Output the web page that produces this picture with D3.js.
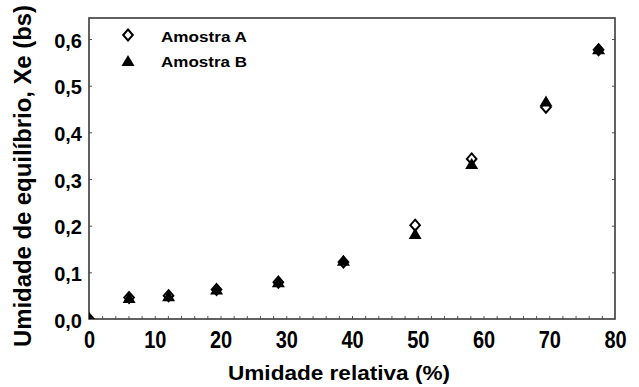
<!DOCTYPE html>
<html>
<head>
<meta charset="utf-8">
<script src="https://cdn.jsdelivr.net/npm/d3@7"></script>
<style>
  html, body { margin: 0; padding: 0; background: #fff; }
  svg { display: block; }
  text { font-family: "Liberation Sans", Arial, sans-serif; font-weight: bold; fill: #000; }
</style>
</head>
<body>
<svg id="chart" width="639" height="387"></svg>
<script>
// Relative humidity (%) at each equilibrium point
const umidadeRelativa = [0, 6.1, 12.1, 19.4, 28.8, 38.7, 49.6, 58.2, 69.5, 77.5];
// Equilibrium moisture content, dry basis
const amostraA = [0, 0.046, 0.050, 0.063, 0.079, 0.122, 0.201, 0.343, 0.454, 0.577];
const amostraB = [0, 0.045, 0.049, 0.063, 0.079, 0.125, 0.182, 0.332, 0.466, 0.578];
const seriesNames = ["Amostra A", "Amostra B"];
const xTicks = [0, 10, 20, 30, 40, 50, 60, 70, 80];
const yTicks = [0, 0.1, 0.2, 0.3, 0.4, 0.5, 0.6];

const svg = d3.select("#chart");
const m = { left: 89, top: 18, right: 24, bottom: 68 };
const W = 639, H = 387;
const iw = W - m.left - m.right, ih = H - m.top - m.bottom;

const x = d3.scaleLinear().domain([0, 80]).range([0, iw]);
const y = d3.scaleLinear().domain([0, 0.645]).range([ih, 0]);

const g = svg.append("g").attr("transform", `translate(${m.left},${m.top})`);

g.append("clipPath").attr("id", "plotClip")
  .append("rect").attr("width", iw).attr("height", ih);

const fmt = d => d3.format(".1f")(d).replace(".", ",");

// bottom axis: labels at every 10, small inward ticks every 2
const xAxis = g.append("g").attr("transform", `translate(0,${ih})`)
  .call(d3.axisBottom(x).tickValues(xTicks).tickSize(0).tickPadding(11).tickFormat(d3.format("d")));
xAxis.select(".domain").remove();
xAxis.selectAll("text").style("font-size", "20px").attr("transform", "scale(1,1.15)");
g.append("g").attr("transform", `translate(0,${ih})`)
  .call(d3.axisBottom(x).tickValues(d3.range(2, 80, 2)).tickSize(-3).tickFormat(""))
  .call(s => s.select(".domain").remove())
  .selectAll("line").attr("stroke", "#555");

// left axis with labels, inward ticks
const yAxis = g.append("g")
  .call(d3.axisLeft(y).tickValues(yTicks).tickSize(0).tickPadding(7).tickFormat(fmt));
yAxis.select(".domain").remove();
yAxis.selectAll("text").style("font-size", "20px").attr("dy", "0.4em");
g.append("g")
  .call(d3.axisLeft(y).tickValues(yTicks.slice(1)).tickSize(-3).tickFormat(""))
  .call(s => s.select(".domain").remove())
  .selectAll("line").attr("stroke", "#555");
g.append("g").attr("transform", `translate(${iw},0)`)
  .call(d3.axisRight(y).tickValues(yTicks.slice(1)).tickSize(-3).tickFormat(""))
  .call(s => s.select(".domain").remove())
  .selectAll("line").attr("stroke", "#555");

// plot frame
g.append("rect").attr("width", iw).attr("height", ih)
  .attr("fill", "none").attr("stroke", "#3a3a3a").attr("stroke-width", 1.6);

// marker shapes
const diamondPath = "M0,-5.5L4.8,0L0,5.5L-4.8,0Z";
const trianglePath = "M0,-6L6.5,5L-6.5,5Z";

// diamonds first, triangles drawn over them
const pts = g.append("g").attr("clip-path", "url(#plotClip)");
pts.selectAll("path.a").data(umidadeRelativa.map((u, i) => [u, amostraA[i]]))
  .join("path").attr("class", "a")
  .attr("d", diamondPath)
  .attr("transform", d => `translate(${x(d[0])},${y(d[1])})`)
  .attr("fill", "#fff").attr("stroke", "#000").attr("stroke-width", 2);
pts.selectAll("path.b").data(umidadeRelativa.map((u, i) => [u, amostraB[i]]))
  .join("path").attr("class", "b")
  .attr("d", trianglePath)
  .attr("transform", d => `translate(${x(d[0])},${y(d[1])})`)
  .attr("fill", "#000");

// legend
const legend = svg.append("g");
legend.append("path").attr("d", diamondPath).attr("transform", "translate(128,35)")
  .attr("fill", "#fff").attr("stroke", "#000").attr("stroke-width", 2);
legend.append("path").attr("d", trianglePath).attr("transform", "translate(128,61)")
  .attr("fill", "#000");
legend.selectAll("text").data(seriesNames).join("text")
  .attr("x", 161).attr("y", (d, i) => 41.5 + i * 25.5)
  .attr("textLength", 86).attr("lengthAdjust", "spacingAndGlyphs")
  .style("font-size", "15px").text(d => d);

// axis titles
svg.append("text").attr("x", 228).attr("y", 380)
  .attr("textLength", 222).attr("lengthAdjust", "spacingAndGlyphs")
  .style("font-size", "21px")
  .text("Umidade relativa (%)");
svg.append("text").attr("transform", `translate(31,347) rotate(-90)`)
  .attr("textLength", 342).attr("lengthAdjust", "spacingAndGlyphs")
  .style("font-size", "23px")
  .text("Umidade de equilíbrio, Xe (bs)");
</script>
</body>
</html>
